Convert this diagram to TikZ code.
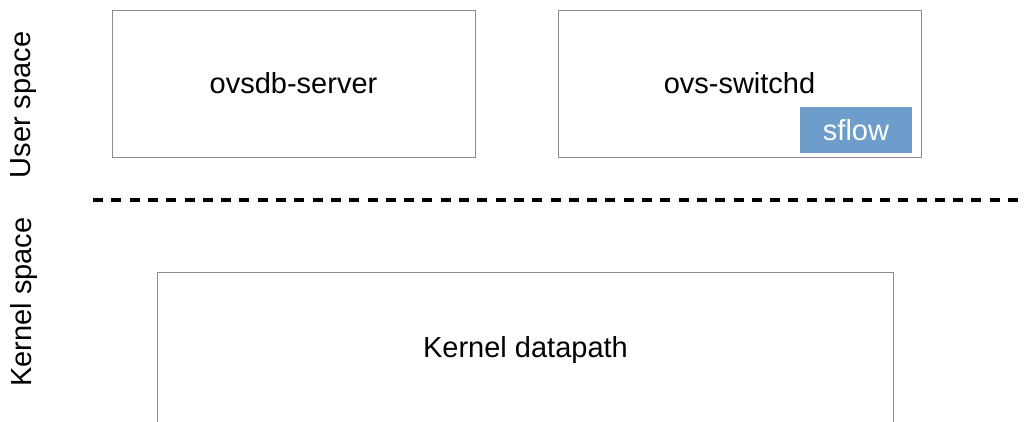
\documentclass[tikz,border=0pt]{standalone}
\usepackage{fontspec}
\setmainfont{Liberation Sans}
\definecolor{boxline}{HTML}{8C8C8C}
\definecolor{sflowblue}{HTML}{6F9DCB}
\tikzset{
  procbox/.style={draw=boxline, line width=1pt, minimum width=363pt, minimum height=147pt, inner sep=0pt, font=\fontsize{29}{34}\selectfont},
  sflowbox/.style={fill=sflowblue, text=white, minimum width=112pt, minimum height=46pt, inner sep=0pt, font=\fontsize{29}{34}\selectfont},
  sidelabel/.style={rotate=90, font=\fontsize{29}{34}\selectfont, inner sep=0pt},
  divider/.style={line width=4pt, dash pattern=on 10pt off 8.3pt}
}
\begin{document}
\begin{tikzpicture}[x=1pt, y=-1pt]
\clip (0,0) rectangle (1027,421);
\node[procbox] (ovsdb) at (293.5,83.5) {ovsdb-server};
\node[procbox] (switchd) at (739.5,83.5) {ovs-switchd};
\node[sflowbox] (sflow) at (856,130) {sflow};
\node[minimum width=735pt, minimum height=154pt, inner sep=0pt, font=\fontsize{29}{34}\selectfont] (kernel) at (525.5,350) {Kernel datapath};
\draw[draw=boxline, line width=1pt] ([yshift=-20pt]kernel.south west) -- (kernel.north west) -- (kernel.north east) -- ([yshift=-20pt]kernel.south east);
\node[sidelabel] (user) at (24,105) {User space};
\node[sidelabel] (kspace) at (24,302) {Kernel space};
\coordinate (dl) at (93,200);
\coordinate (dr) at (1019,200);
\draw[divider] (dl) -- (dr);
\end{tikzpicture}
\end{document}
